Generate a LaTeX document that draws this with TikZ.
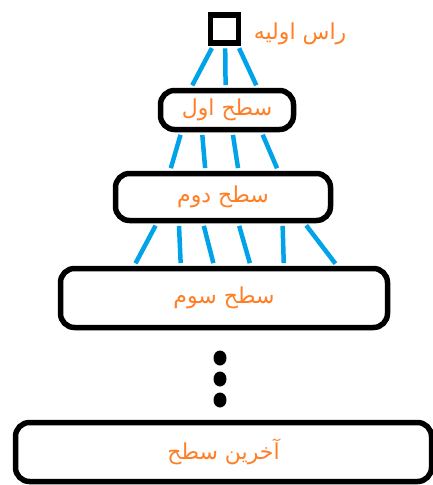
\documentclass[tikz,border=0pt]{standalone}
\usepackage{fontspec}
\newfontfamily\arabicfont[Script=Arabic]{DejaVu Sans}
\TeXXeTstate=1
\usetikzlibrary{calc,positioning,shapes.geometric}
\definecolor{paintorange}{RGB}{255,127,39}
\definecolor{paintblue}{RGB}{0,162,232}

\begin{document}
\begin{tikzpicture}[x=1pt,y=-1pt,
  level/.style={rectangle, rounded corners=14pt, draw=black, line width=5.5pt,
    fill=white, minimum width=#1, inner sep=0pt, text=paintorange,
    font=\arabicfont\fontsize{22}{25}\selectfont},
  rootbox/.style={rectangle, draw=black, line width=5.5pt, fill=white,
    minimum size=28pt, inner sep=0pt},
  lbl/.style={text=paintorange, font=\arabicfont\fontsize{22}{25}\selectfont},
  link/.style={draw=paintblue, line width=4.5pt, shorten <=2.7pt, shorten >=2.7pt},
  dot/.style={ellipse, fill=black, minimum width=13pt, minimum height=15pt, inner sep=0pt}
]
\useasboundingbox (0,0) rectangle (433,485);

% Levels - vertical layout
\node[rootbox] (root) at (224.5,29) {};
\node[level=133pt, minimum height=39pt] (l1) at (227,110) {\beginR سطح اول\endR};
\node[level=215pt, minimum height=47pt] (l2) at (223,197) {\beginR سطح دوم\endR};
\node[level=327pt, minimum height=59pt] (l3) at (224,298) {\beginR سطح سوم\endR};
\node[level=416pt, minimum height=59pt] (last) at (223.5,452) {\beginR آخرین سطح\endR};

% Root label
\node[lbl, right=9pt of root, yshift=-5pt] (rootlbl) {\beginR راس اولیه\endR};

% Links between levels
\foreach \a/\b in {0.16/0.24, 0.52/0.49, 0.9/0.72}
  \draw[link] ($(root.south west)!\a!(root.south east)$) -- ($(l1.north west)!\b!(l1.north east)$);
\foreach \a/\b in {0.17/0.26, 0.32/0.42, 0.54/0.57, 0.75/0.75}
  \draw[link] ($(l1.south west)!\a!(l1.south east)$) -- ($(l2.north west)!\b!(l2.north east)$);
\foreach \a/\b in {0.20/0.23, 0.30/0.37, 0.41/0.47, 0.57/0.58, 0.77/0.68, 0.87/0.84}
  \draw[link] ($(l2.south west)!\a!(l2.south east)$) -- ($(l3.north west)!\b!(l3.north east)$);

% Dots
\node[dot] (d1) at (220,358) {};
\node[dot] (d2) at (220,379) {};
\node[dot] (d3) at (220,400) {};

\end{tikzpicture}
\end{document}
